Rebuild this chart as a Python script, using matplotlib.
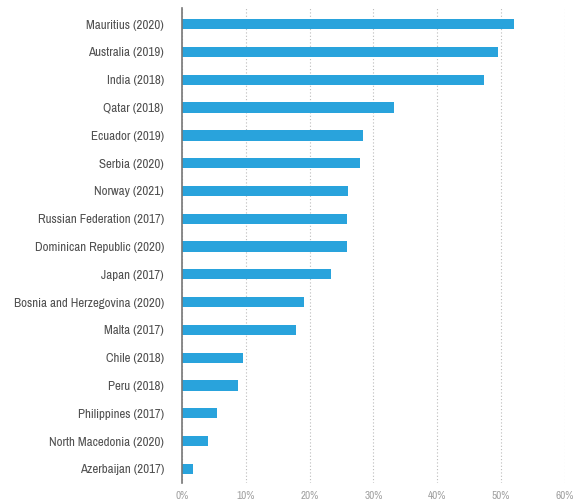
import matplotlib
matplotlib.use("Agg")
import matplotlib.pyplot as plt
from matplotlib.ticker import PercentFormatter

# values (percent)
countries = ["Mauritius (2020)", "Australia (2019)", "India (2018)", "Qatar (2018)",
             "Ecuador (2019)", "Serbia (2020)", "Norway (2021)",
             "Russian Federation (2017)", "Dominican Republic (2020)", "Japan (2017)",
             "Bosnia and Herzegovina (2020)", "Malta (2017)", "Chile (2018)",
             "Peru (2018)", "Philippines (2017)", "North Macedonia (2020)",
             "Azerbaijan (2017)"]
values = [52.1, 49.6, 47.4, 33.3, 28.3, 27.9, 26.0, 25.9, 25.8, 23.4,
          19.1, 17.9, 9.5, 8.8, 5.5, 4.1, 1.7]
xticks = [0, 10, 20, 30, 40, 50, 60]

plt.rcParams['font.family'] = ['Archivo Narrow', 'PT Sans Narrow', 'DejaVu Sans']

fig = plt.figure(figsize=(5.74, 5.04), dpi=100)
ax = fig.add_axes([0.317, 0.042, 0.667, 0.942])

ypos = list(range(len(countries)))
ax.barh(ypos, values, height=0.37, color="#29a3dc", zorder=3)

ax.set_ylim(16.5, -0.58)
ax.set_xlim(0, 60)
ax.set_yticks(ypos)
ax.set_yticklabels(countries, fontsize=9.3, color="#505050")
ax.set_xticks(xticks)
ax.xaxis.set_major_formatter(PercentFormatter(decimals=0))
ax.tick_params(axis='x', length=0, labelsize=8, labelcolor="#a0a0a0", pad=6)
ax.tick_params(axis='y', length=0, pad=13)

ax.grid(axis='x', linestyle=(0, (1, 2)), color="#bbbbbb", linewidth=0.8, zorder=0)
ax.grid(axis='y', visible=False)
for side in ['top', 'right', 'bottom']:
    ax.spines[side].set_visible(False)
ax.spines['left'].set_color("#777777")
ax.spines['left'].set_linewidth(1.2)
ax.spines['left'].set_zorder(4)

fig.savefig("out.png", dpi=100)
